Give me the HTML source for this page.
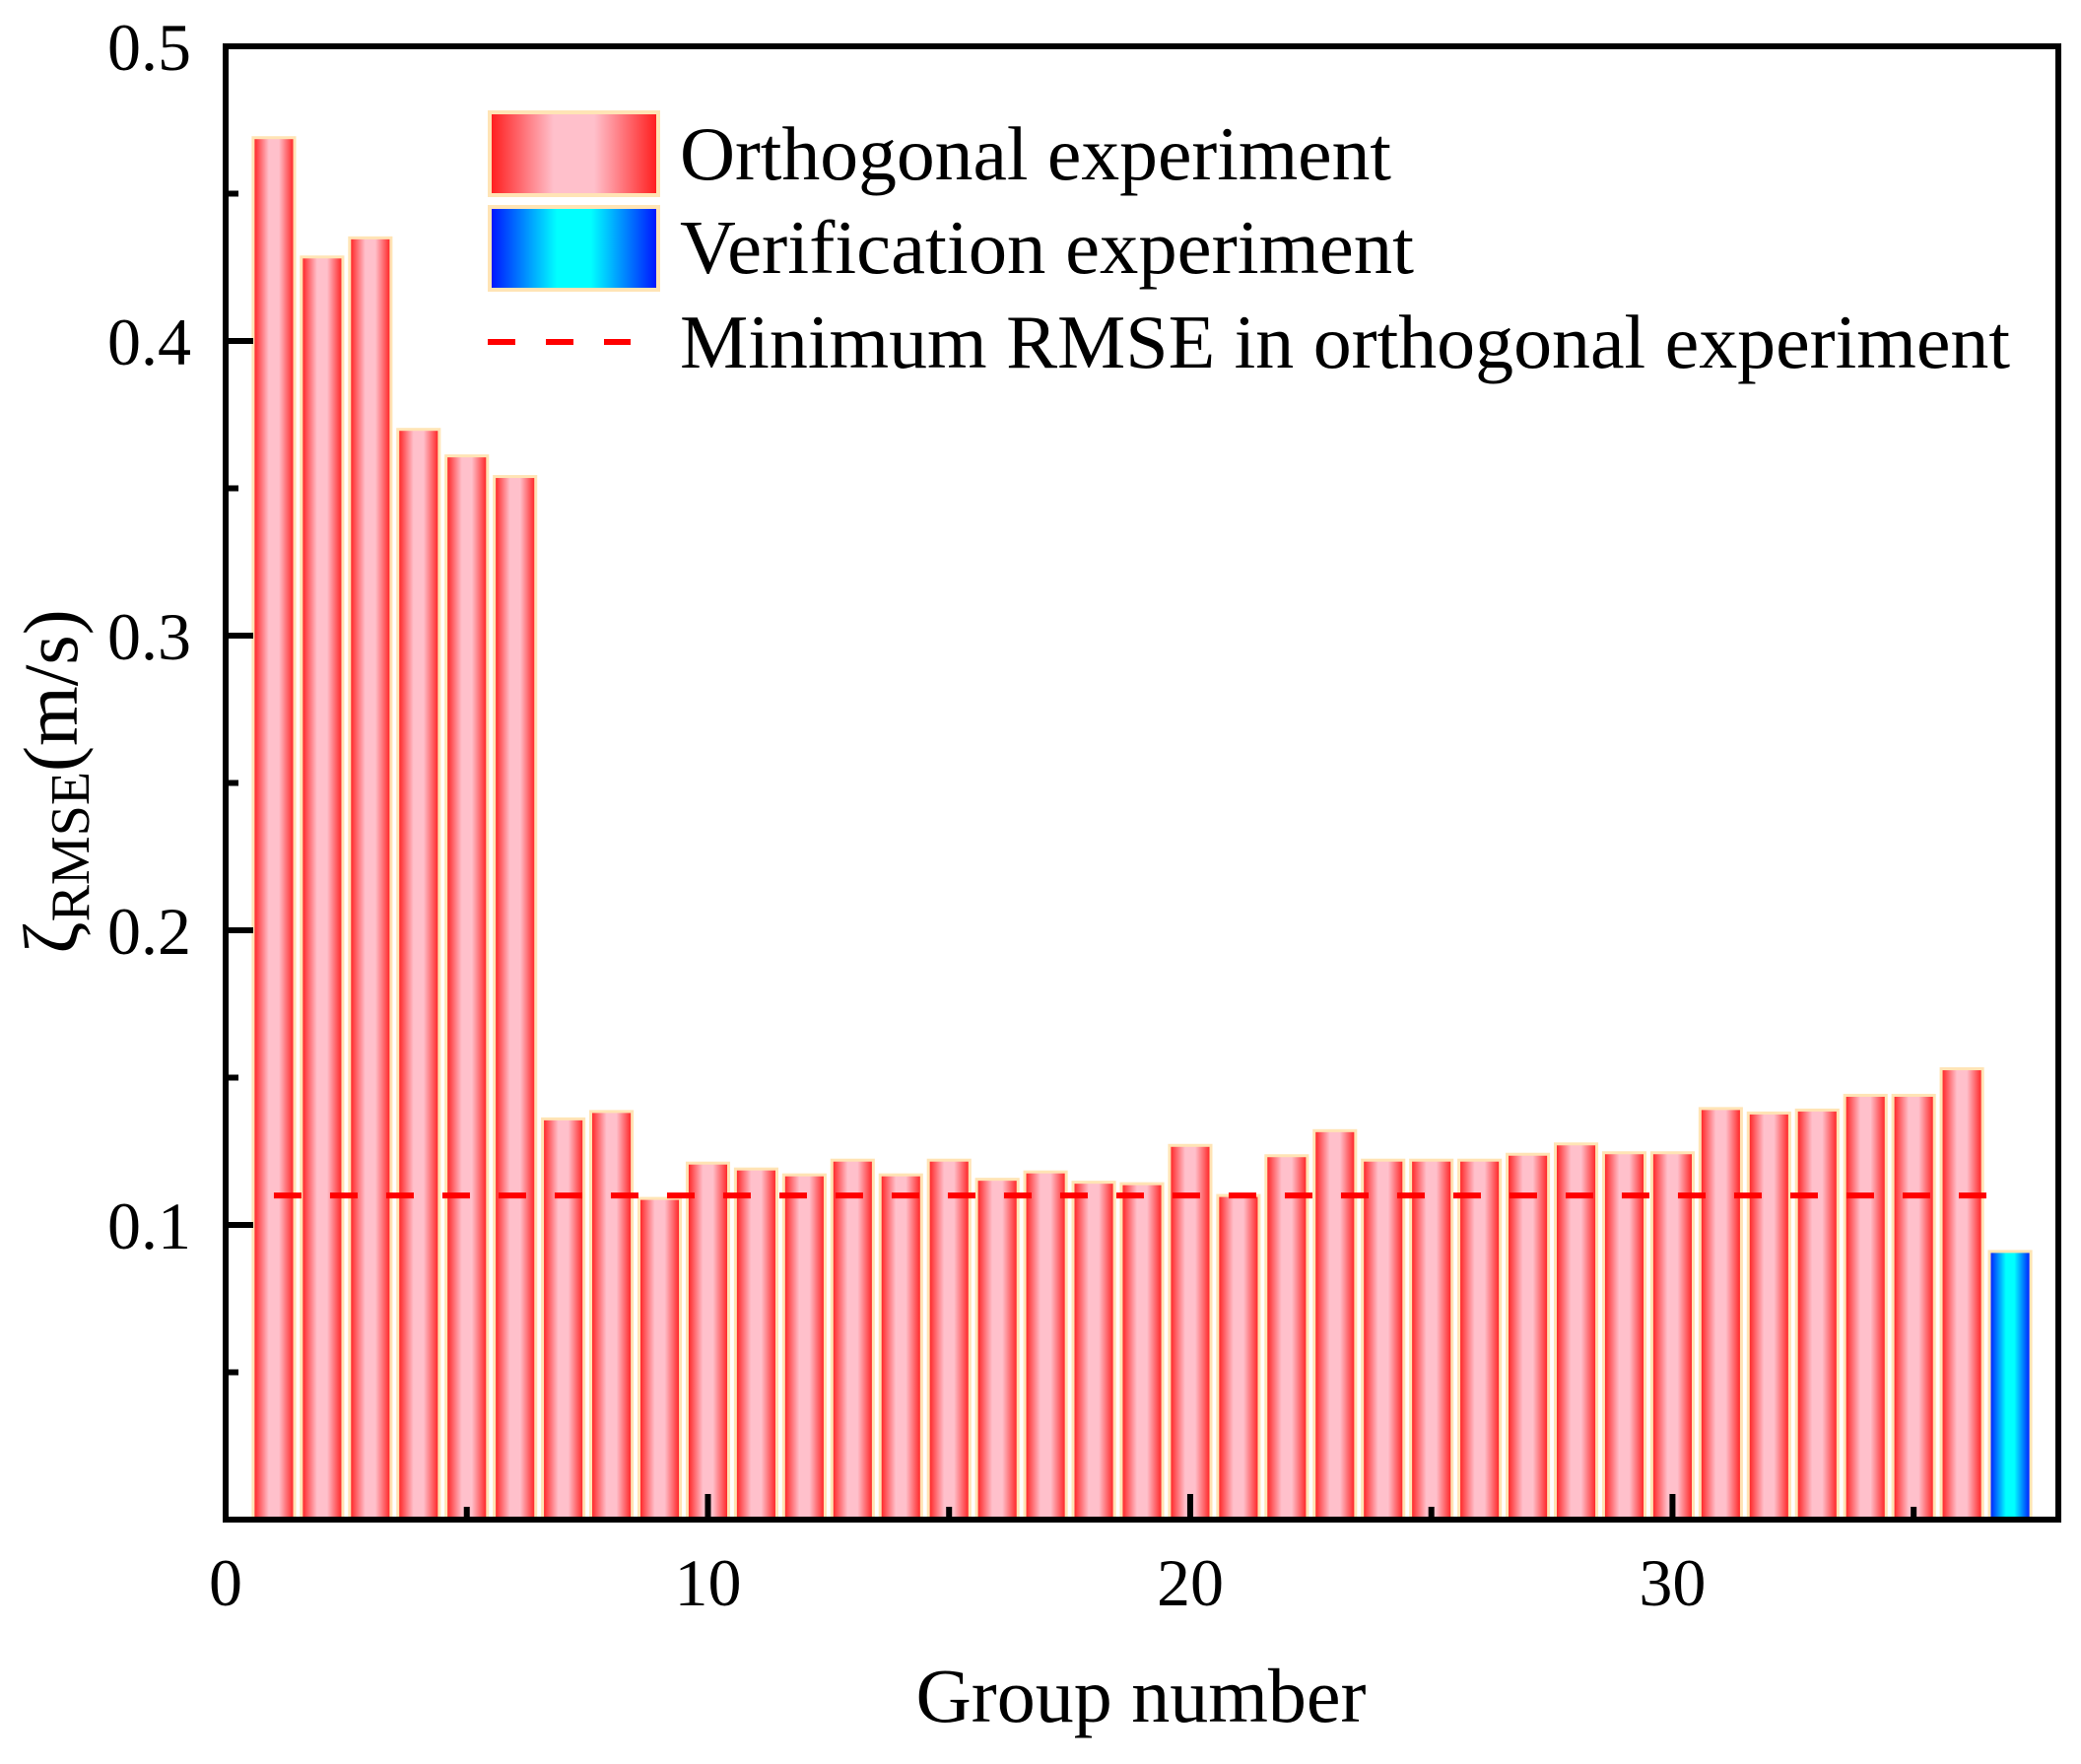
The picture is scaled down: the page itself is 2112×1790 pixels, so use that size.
<!DOCTYPE html>
<html><head><meta charset="utf-8"><style>
html,body{margin:0;padding:0;background:#fff;}
svg{display:block;font-family:"Liberation Serif","Times New Roman",serif;}
</style></head><body>
<svg id="chart" width="2112" height="1790" viewBox="0 0 2112 1790" xmlns="http://www.w3.org/2000/svg">
<defs>
<linearGradient id="gRed" x1="0" x2="1" y1="0" y2="0">
<stop offset="0" stop-color="#ff1a1a"/><stop offset="0.38" stop-color="#ffc0cb"/><stop offset="0.62" stop-color="#ffc0cb"/><stop offset="1" stop-color="#ff1a1a"/>
</linearGradient>
<linearGradient id="gBlue" x1="0" x2="1" y1="0" y2="0">
<stop offset="0" stop-color="#0010ff"/><stop offset="0.4" stop-color="#00ffff"/><stop offset="0.6" stop-color="#00ffff"/><stop offset="1" stop-color="#0010ff"/>
</linearGradient>
</defs>
<g id="bars"></g>
<g id="axes"></g>
<g>
<rect x="497" y="114" width="171" height="84" fill="url(#gRed)" stroke="#ffe4b5" stroke-width="4"/>
<text x="690" y="182" font-size="77" textLength="722" lengthAdjust="spacingAndGlyphs">Orthogonal experiment</text>
<rect x="497" y="210" width="171" height="84" fill="url(#gBlue)" stroke="#ffe4b5" stroke-width="4"/>
<text x="690" y="277" font-size="77" textLength="745" lengthAdjust="spacingAndGlyphs">Verification experiment</text>
<line x1="495" y1="347" x2="640" y2="347" stroke="#ff0000" stroke-width="6" stroke-dasharray="28,31"/>
<text x="690" y="373" font-size="77" textLength="1350" lengthAdjust="spacingAndGlyphs">Minimum RMSE in orthogonal experiment</text>
</g>
<text x="1158" y="1747" font-size="78" text-anchor="middle">Group number</text>
<text transform="translate(78,793) rotate(-90)" font-size="78" text-anchor="middle">ζ<tspan font-size="56" dy="12">RMSE</tspan><tspan dy="-12">(m/s)</tspan></text>
</svg>
<script>
const groups = [1,2,3,4,5,6,7,8,9,10,11,12,13,14,15,16,17,18,19,20,21,22,23,24,25,26,27,28,29,30,31,32,33,34,35,36];
const orthValues = [0.469,0.4285,0.435,0.370,0.361,0.354,0.136,0.1385,0.109,0.121,0.119,0.117,0.122,0.117,0.122,0.1155,0.118,0.1145,0.114,0.127,0.110,0.1235,0.132,0.122,0.122,0.122,0.124,0.1275,0.1245,0.1245,0.1395,0.138,0.139,0.144,0.144,0.153];
const verifGroup = [37];
const verifValues = [0.091];
const minRmse = [0.11];
const xTicks = [0,10,20,30];
const xTickLabels = ["0","10","20","30"];
const yTicks = [0.1,0.2,0.3,0.4,0.5];
const yTickLabels = ["0.1","0.2","0.3","0.4","0.5"];

const NS = "http://www.w3.org/2000/svg";
const X0 = 229, X1 = 2089, Y0 = 1542, Y1 = 47;
const xMin = 0, xMax = 38, yMin = 0, yMax = 0.5;
const xs = v => X0 + (v - xMin) / (xMax - xMin) * (X1 - X0);
const ys = v => Y0 - (v - yMin) / (yMax - yMin) * (Y0 - Y1);
const bw = 0.86;
function mk(tag, attrs, parent) {
  const e = document.createElementNS(NS, tag);
  for (const k in attrs) e.setAttribute(k, attrs[k]);
  parent.appendChild(e);
  return e;
}
const bars = document.getElementById('bars');
groups.forEach((g, i) => {
  const l = xs(g - bw / 2), r = xs(g + bw / 2), t = ys(orthValues[i]);
  const el = mk('rect', {x: l, y: t, width: r - l, height: Y0 - t, fill: 'url(#gRed)', stroke: '#ffe4b5', 'stroke-width': 3}, bars);
  
  
});
verifGroup.forEach((g, i) => {
  const l = xs(g - bw / 2), r = xs(g + bw / 2), t = ys(verifValues[i]);
  const el = mk('rect', {x: l, y: t, width: r - l, height: Y0 - t, fill: 'url(#gBlue)', stroke: '#ffe4b5', 'stroke-width': 3}, bars);
  
  
});
const ml = mk('line', {x1: xs(1), x2: xs(37), y1: ys(minRmse[0]), y2: ys(minRmse[0]), stroke: '#ff0000', 'stroke-width': 6, 'stroke-dasharray': '28,29'}, bars);



const axes = document.getElementById('axes');
const frame = mk('rect', {x: X0, y: Y1, width: X1 - X0, height: Y0 - Y1, fill: 'none', stroke: '#000', 'stroke-width': 6}, axes);


xTicks.forEach((v, i) => {
  const t = mk('line', {x1: xs(v), x2: xs(v), y1: Y0, y2: Y0 - 26, stroke: '#000', 'stroke-width': 6}, axes);
  
  
  const m = mk('line', {x1: xs(v + 5), x2: xs(v + 5), y1: Y0, y2: Y0 - 13, stroke: '#000', 'stroke-width': 6}, axes);
  
  
  const lb = mk('text', {x: xs(v), y: 1629, 'font-size': 68, 'text-anchor': 'middle'}, axes);
  lb.textContent = xTickLabels[i];
  
  
});
yTicks.forEach((v, i) => {
  const t = mk('line', {x1: X0, x2: X0 + 28, y1: ys(v), y2: ys(v), stroke: '#000', 'stroke-width': 6}, axes);
  
  
  const m = mk('line', {x1: X0, x2: X0 + 13, y1: ys(v - 0.05), y2: ys(v - 0.05), stroke: '#000', 'stroke-width': 6}, axes);
  
  
  const lb = mk('text', {x: 194, y: ys(v) + 24, 'font-size': 68, 'text-anchor': 'end'}, axes);
  lb.textContent = yTickLabels[i];
  
  
});
</script>
</body></html>
